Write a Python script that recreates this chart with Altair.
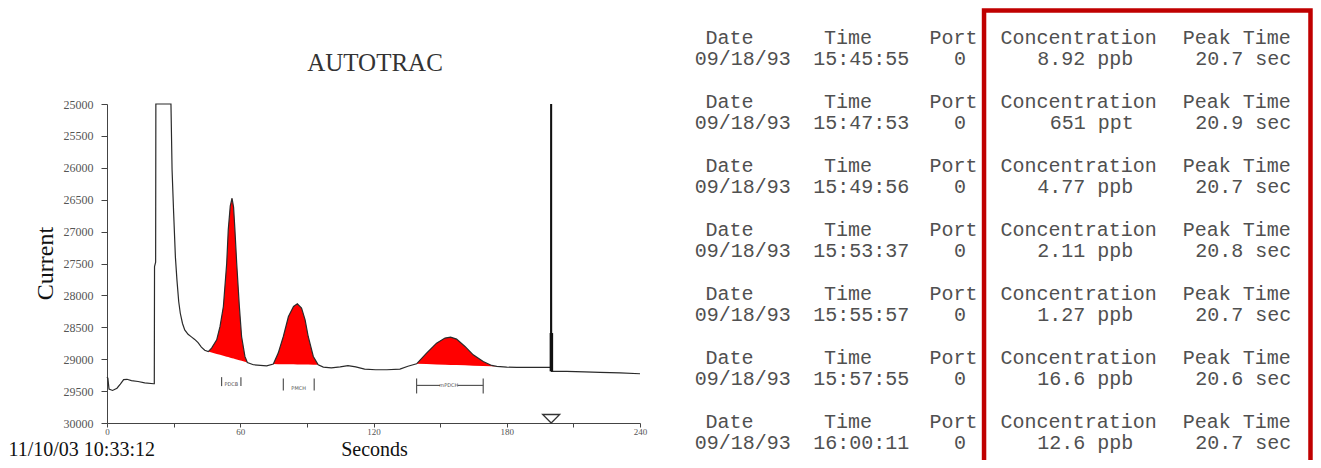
import altair as alt
import pandas as pd
import numpy as np

# ---------------- chromatogram data (seconds, current) ----------------
trace_t = [0.0, 0.4, 0.9, 2.5, 4.5, 6.0, 7.5, 9.0, 11.0, 14.0, 17.0, 21.0, 21.3, 21.4, 21.9, 22.0,
           28.8, 29.3, 30.0, 30.8, 31.5, 32.3, 33.0, 34.0, 35.0, 36.5, 38.0, 39.5, 41.0, 42.5, 44.0,
           45.6, 47.1, 49.4, 50.9, 52.4, 53.9, 54.6, 55.5, 56.3, 57.0, 57.6, 58.4, 59.6, 60.6, 62.1,
           63.2, 65.9, 71.9, 74.9, 77.1, 79.4, 81.7, 84.0, 85.7, 87.6, 89.2, 90.6, 92.9, 95.1, 97.4,
           101.0, 105.0, 108.5, 112.0, 116.0, 121.0, 126.0, 131.9, 135.5, 139.4, 143.9, 148.4, 152.2,
           154.7, 157.4, 161.2, 164.9, 169.4, 173.2, 175.5, 180.0, 184.5, 192.0, 199.8, 200.0, 200.15,
           207.0, 215.0, 222.0, 231.0, 240.0]
trace_v = [29280, 29300, 29470, 29490, 29455, 29390, 29320, 29315, 29335, 29350, 29370, 29385, 29385,
           27550, 27480, 25000, 25000, 26030, 26700, 27400, 27760, 28100, 28280, 28440, 28540, 28610,
           28650, 28690, 28740, 28810, 28860, 28880, 28826, 28696, 28487, 28174, 27495, 26973, 26600,
           26477, 26620, 26973, 27495, 28174, 28644, 28957, 29051, 29087, 29103, 29076, 28904, 28644,
           28331, 28174, 28132, 28200, 28383, 28644, 28957, 29087, 29123, 29135, 29120, 29100, 29120,
           29155, 29165, 29165, 29155, 29110, 29072, 28904, 28748, 28669, 28653, 28685, 28800, 28931,
           29036, 29098, 29113, 29125, 29129, 29129, 29129, 25000, 29192, 29192, 29200, 29208, 29215,
           29228]

peak_names = ["PDCB", "PMCH", "mPDCH"]
peak_start = [45.6, 74.9, 139.4]
peak_end = [63.2, 95.1, 175.5]

bracket_left = [51.6, 79.4, 139.4]
bracket_right = [60.3, 93.3, 169.4]
bracket_top = [29281, 29302, 29302]
bracket_bottom = [29422, 29490, 29537]
label_t = [56.0, 86.3, 153.9]
label_v = [29390, 29452, 29405]
span_left = [139.4, 157.8]
span_right = [150.0, 169.4]
span_level = [29411, 29411]

spike_t = [200.0, 200.1]
spike_top = [25000, 28590]
spike_bottom = [29130, 29190]
marker_t = [200.0]
marker_v = [29933]

x_ticks = list(range(0, 241, 30))
y_ticks = list(range(25000, 30001, 500))

# ---------------- table data ----------------
dates = ["09/18/93"] * 7
times = ["15:45:55", "15:47:53", "15:49:56", "15:53:37", "15:55:57", "15:57:55", "16:00:11"]
ports = ["0"] * 7
concs = ["8.92 ppb", "651 ppt", "4.77 ppb", "2.11 ppb", "1.27 ppb", "16.6 ppb", "12.6 ppb"]
peak_times = ["20.7 sec", "20.9 sec", "20.7 sec", "20.8 sec", "20.7 sec", "20.6 sec", "20.7 sec"]
header_labels = ["Date", "Time", "Port", "Concentration", "Peak Time"]
stamp = "11/10/03 10:33:12"

# character-column layout of the monospaced report
header_cols = [1, 10, 18, 23, 37]
value_start = [0, 9]          # date, time (left aligned)
value_end = [21, 34, 46]      # port, concentration, peak time (right aligned)
box_cols = [22.32, 47.1]
box_lines = [-1.29, 25]

# ---------------- frames ----------------
trace = pd.DataFrame({"t": trace_t, "v": trace_v})

fill_rows = []
for name, s, e in zip(peak_names, peak_start, peak_end):
    vs = float(np.interp(s, trace_t, trace_v))
    ve = float(np.interp(e, trace_t, trace_v))
    for t, v in zip(trace_t, trace_v):
        if s <= t <= e:
            fill_rows.append({"peak": name, "t": t, "v": v,
                              "v2": vs + (ve - vs) * (t - s) / (e - s)})
fills = pd.DataFrame(fill_rows)

ticks_rows = []
for l, r, tp, bt in zip(bracket_left, bracket_right, bracket_top, bracket_bottom):
    ticks_rows.append({"t": l, "v": tp, "v2": bt})
    ticks_rows.append({"t": r, "v": tp, "v2": bt})
bracket_ticks = pd.DataFrame(ticks_rows)
spans = pd.DataFrame({"t": span_left, "t2": span_right, "v": span_level})
labels = pd.DataFrame({"name": peak_names, "t": label_t, "v": label_v})
spike_thin = pd.DataFrame({"t": spike_t[:1], "v": spike_top[:1], "v2": spike_bottom[:1]})
spike_thick = pd.DataFrame({"t": spike_t[1:], "v": spike_top[1:], "v2": spike_bottom[1:]})
marker = pd.DataFrame({"t": marker_t, "v": marker_v})

cells = []
for r in range(7):
    for lab, c in zip(header_labels, header_cols):
        cells.append({"text": lab, "col": c + len(lab) / 2, "line": 3 * r})
    vals_left = [dates[r], times[r]]
    for txt, c in zip(vals_left, value_start):
        cells.append({"text": txt, "col": c + len(txt) / 2, "line": 3 * r + 1})
    vals_right = [ports[r], concs[r], peak_times[r]]
    for txt, c in zip(vals_right, value_end):
        cells.append({"text": txt, "col": c - len(txt) / 2, "line": 3 * r + 1})
table = pd.DataFrame(cells)
box = pd.DataFrame({"col": [box_cols[0]], "col2": [box_cols[1]],
                    "line": [box_lines[0]], "line2": [box_lines[1]]})

# ---------------- scales / axes ----------------
SERIF = "Liberation Serif"
W, H = 1305, 452
x_scale = alt.Scale(domain=[0, 240], range=[99, 632], nice=False, zero=False)
y_scale = alt.Scale(domain=[25000, 30000], range=[96, 415], nice=False, zero=False)
x_axis = alt.Axis(values=x_ticks, format="d", orient="bottom",
                  labelExpr="datum.value % 60 == 0 ? datum.label : ''",
                  grid=False, tickSize=4, tickColor="#444", domainColor="#444",
                  labelFont=SERIF, labelFontSize=9, labelColor="#555", labelPadding=0,
                  labelFlush=False, offset=415 - H,
                  title="Seconds", titleFont=SERIF, titleFontSize=20, titleFontWeight="normal",
                  titleColor="#111", titleX=366, titleY=32.5, titleAlign="center",
                  titleBaseline="alphabetic")
y_axis = alt.Axis(values=y_ticks, format="d", orient="left", grid=False, tickSize=6,
                  tickColor="#444", domainColor="#444", labelFont=SERIF, labelFontSize=12,
                  labelColor="#555", labelPadding=8, labelFlush=False, offset=-99,
                  title="Current", titleFont=SERIF, titleFontSize=24, titleFontWeight="normal",
                  titleColor="#111", titleAngle=270, titleX=-62, titleY=255,
                  titleAlign="center", titleBaseline="middle")

X = alt.X("t:Q", scale=x_scale, axis=x_axis)
Y = alt.Y("v:Q", scale=y_scale, axis=y_axis)

area = alt.Chart(fills).mark_area(color="#ff0000", opacity=1, orient="vertical").encode(
    x=X, y=Y, y2=alt.Y2("v2:Q"), detail="peak:N")
line = alt.Chart(trace).mark_line(color="#2a2a2a", strokeWidth=1.2).encode(x=X, y=Y)
thin = alt.Chart(spike_thin).mark_rule(color="#111", strokeWidth=2).encode(
    x=X, y=Y, y2=alt.Y2("v2:Q"))
thick = alt.Chart(spike_thick).mark_rule(color="#111", strokeWidth=3.5).encode(
    x=X, y=Y, y2=alt.Y2("v2:Q"))
btick = alt.Chart(bracket_ticks).mark_rule(color="#555", strokeWidth=1.2).encode(
    x=X, y=Y, y2=alt.Y2("v2:Q"))
bspan = alt.Chart(spans).mark_rule(color="#555", strokeWidth=1.2).encode(
    x=X, x2=alt.X2("t2:Q"), y=Y)
btext = alt.Chart(labels).mark_text(font="DejaVu Sans", fontSize=5, color="#555",
                                    baseline="middle").encode(x=X, y=Y, text="name:N")
tri = alt.Chart(marker).mark_point(shape="M-1,-0.5L1,-0.5L0,0.5Z", size=289, filled=False,
                                   color="#333", strokeWidth=1.3, opacity=1).encode(x=X, y=Y)

chrom = alt.layer(area, line, thin, thick, btick, bspan, btext, tri)

tx_axis = alt.Axis(title=stamp, orient="bottom", labels=False, ticks=False, domain=False,
                   grid=False, offset=0,
                   titleFont=SERIF, titleFontSize=20, titleFontWeight="normal", titleColor="#111",
                   titleX=0, titleY=-4.5, titleAlign="left", titleBaseline="alphabetic")
TX = alt.X("col:Q", scale=alt.Scale(domain=[0, 46], range=[682, 1288], nice=False, zero=False),
           axis=tx_axis)
TY = alt.Y("line:Q", scale=alt.Scale(domain=[0, 19], range=[30, 435], nice=False, zero=False),
           axis=None)

texts = alt.Chart(table).mark_text(align="center", baseline="middle", font="Liberation Mono",
                                   fontSize=20, color="#505050").encode(x=TX, y=TY, text="text:N")
rect = alt.Chart(box).mark_rect(fillOpacity=0, stroke="#c00000", strokeWidth=4.5).encode(
    x=TX, x2=alt.X2("col2:Q"), y=TY, y2=alt.Y2("line2:Q"))
report = alt.layer(texts, rect)

chart = alt.layer(chrom, report).resolve_scale(x="independent", y="independent").properties(
    width=W, height=H, padding=0,
    autosize=alt.AutoSizeParams(type="none"),
    title=alt.TitleParams(text="AUTOTRAC", font=SERIF, fontSize=25, fontWeight="normal",
                          color="#333", anchor="middle", frame="group", offset=0,
                          dx=367 - W / 2, dy=80, baseline="middle"),
).configure_view(stroke=None)

chart.save("out.html", embed_options={"renderer": "svg", "actions": False})
